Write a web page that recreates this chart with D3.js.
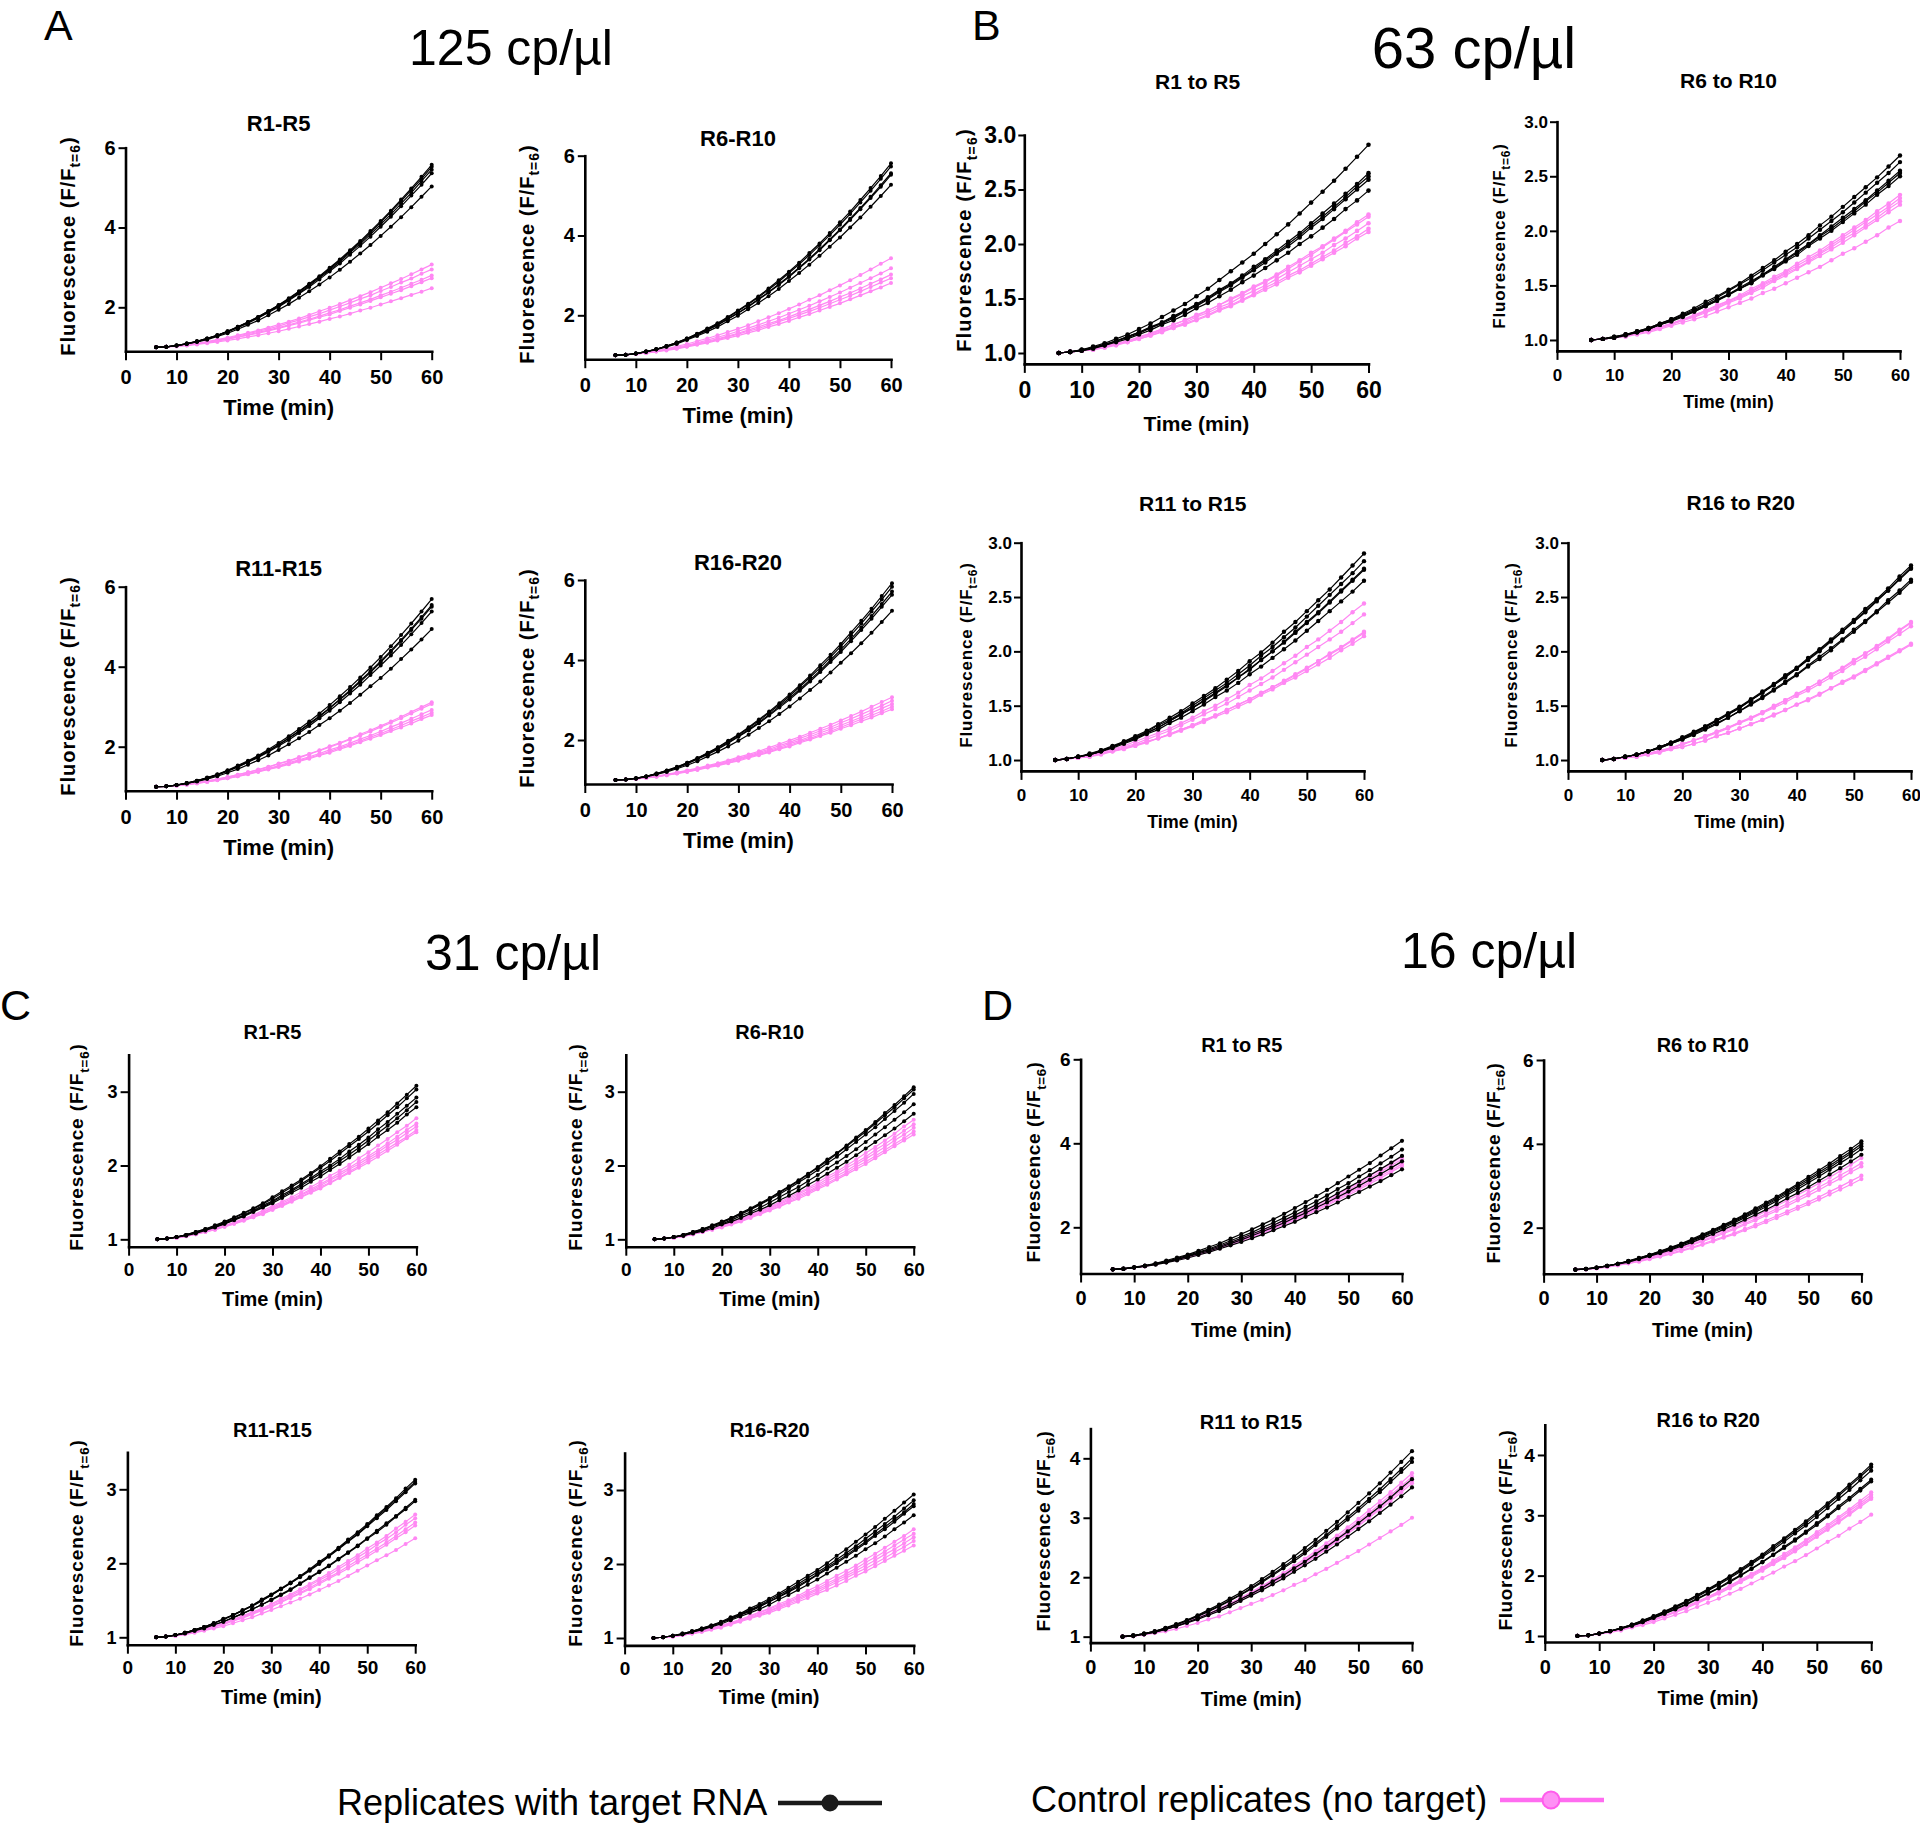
<!DOCTYPE html>
<html><head><meta charset="utf-8">
<script src="https://cdn.jsdelivr.net/npm/d3@7"></script>
<style>body{margin:0;background:#fff}</style>
</head><body>
<svg id="chart" width="1920" height="1823" style="background:#fff"></svg>
<script>
// ---------------- DATA ----------------
const time = [6,8,10,12,14,16,18,20,22,24,26,28,30,32,34,36,38,40,42,44,46,48,50,52,54,56,58,60];
const xTicks = [0,10,20,30,40,50,60];
const yTicks6 = [2,4,6];
const yTicks3 = [1.0,1.5,2.0,2.5,3.0];
const yTicks35 = [1,2,3];
const yTicks45 = [1,2,3,4];
const concentrations = ["125 cp/\u00b5l","63 cp/\u00b5l","31 cp/\u00b5l","16 cp/\u00b5l"];
const panelLetters = ["A","B","C","D"];
const titlesDash = ["R1-R5","R6-R10","R11-R15","R16-R20"];
const titlesTo = ["R1 to R5","R6 to R10","R11 to R15","R16 to R20"];
const legendLabels = ["Replicates with target RNA","Control replicates (no target)"];

// 125 cp/ul
const a1Target = [
[1,1.01,1.04,1.09,1.15,1.22,1.30,1.40,1.51,1.63,1.76,1.91,2.06,2.23,2.40,2.59,2.78,2.99,3.20,3.43,3.66,3.91,4.16,4.42,4.70,4.98,5.27,5.57],
[1,1.01,1.04,1.09,1.15,1.22,1.30,1.40,1.51,1.63,1.76,1.90,2.05,2.21,2.39,2.57,2.76,2.96,3.18,3.40,3.63,3.88,4.13,4.39,4.66,4.94,5.22,5.52],
[1,1.01,1.04,1.09,1.14,1.21,1.30,1.39,1.50,1.62,1.74,1.88,2.03,2.19,2.36,2.54,2.74,2.93,3.14,3.37,3.59,3.83,4.08,4.33,4.60,4.87,5.16,5.45],
[1,1.01,1.04,1.08,1.14,1.21,1.29,1.38,1.49,1.60,1.73,1.87,2.01,2.17,2.34,2.51,2.70,2.90,3.10,3.32,3.54,3.77,4.02,4.27,4.53,4.80,5.07,5.36],
[1,1.01,1.04,1.08,1.13,1.19,1.27,1.35,1.45,1.56,1.67,1.80,1.94,2.08,2.24,2.40,2.57,2.75,2.94,3.14,3.35,3.56,3.79,4.02,4.26,4.51,4.77,5.03]];
const a1Control = [
[1,1.01,1.03,1.06,1.10,1.14,1.19,1.24,1.30,1.36,1.42,1.49,1.57,1.64,1.72,1.81,1.90,1.99,2.08,2.18,2.28,2.38,2.49,2.60,2.71,2.83,2.95,3.07],
[1,1.01,1.03,1.06,1.09,1.13,1.18,1.22,1.28,1.34,1.40,1.46,1.53,1.61,1.68,1.76,1.84,1.93,2.02,2.11,2.21,2.30,2.41,2.51,2.62,2.72,2.84,2.95],
[1,1.01,1.03,1.05,1.08,1.12,1.16,1.21,1.26,1.31,1.37,1.43,1.49,1.56,1.63,1.70,1.78,1.86,1.94,2.03,2.11,2.20,2.30,2.39,2.49,2.59,2.69,2.80],
[1,1.01,1.03,1.05,1.08,1.12,1.16,1.20,1.25,1.30,1.35,1.41,1.47,1.54,1.60,1.68,1.75,1.82,1.91,1.99,2.07,2.16,2.25,2.34,2.43,2.53,2.63,2.73],
[1,1.01,1.02,1.04,1.07,1.10,1.13,1.17,1.21,1.26,1.30,1.35,1.40,1.46,1.52,1.58,1.64,1.71,1.77,1.84,1.92,1.99,2.07,2.15,2.23,2.31,2.39,2.48]];
const a2Target = [
[1,1.01,1.04,1.09,1.15,1.23,1.32,1.42,1.54,1.67,1.80,1.96,2.12,2.29,2.47,2.67,2.88,3.09,3.32,3.56,3.80,4.06,4.33,4.60,4.89,5.19,5.49,5.81],
[1,1.01,1.04,1.09,1.15,1.23,1.32,1.42,1.53,1.65,1.79,1.94,2.10,2.27,2.45,2.64,2.84,3.06,3.28,3.51,3.76,4.01,4.27,4.54,4.83,5.12,5.42,5.73],
[1,1.01,1.04,1.09,1.15,1.22,1.30,1.40,1.51,1.63,1.76,1.91,2.06,2.22,2.40,2.58,2.78,2.98,3.20,3.42,3.66,3.90,4.15,4.42,4.69,4.97,5.26,5.56],
[1,1.01,1.04,1.09,1.15,1.22,1.30,1.40,1.51,1.63,1.76,1.90,2.05,2.21,2.39,2.57,2.76,2.96,3.18,3.40,3.63,3.88,4.13,4.39,4.66,4.94,5.22,5.52],
[1,1.01,1.04,1.08,1.14,1.21,1.28,1.38,1.48,1.59,1.71,1.85,1.99,2.15,2.31,2.48,2.66,2.86,3.06,3.27,3.49,3.72,3.95,4.20,4.45,4.72,4.99,5.27]];
const a2Control = [
[1,1.01,1.04,1.07,1.11,1.16,1.22,1.28,1.35,1.42,1.50,1.58,1.66,1.75,1.85,1.95,2.05,2.16,2.27,2.39,2.50,2.63,2.75,2.88,3.01,3.15,3.29,3.43],
[1,1.01,1.03,1.06,1.10,1.15,1.20,1.25,1.31,1.38,1.45,1.52,1.60,1.68,1.76,1.85,1.94,2.04,2.14,2.24,2.35,2.46,2.57,2.69,2.81,2.93,3.05,3.18],
[1,1.01,1.03,1.06,1.10,1.14,1.18,1.23,1.29,1.35,1.41,1.48,1.55,1.63,1.71,1.79,1.87,1.96,2.06,2.15,2.25,2.35,2.46,2.56,2.67,2.79,2.90,3.02],
[1,1.01,1.03,1.06,1.09,1.13,1.17,1.22,1.28,1.33,1.39,1.46,1.53,1.60,1.67,1.75,1.84,1.92,2.01,2.10,2.19,2.29,2.39,2.49,2.60,2.71,2.82,2.93],
[1,1.01,1.03,1.05,1.09,1.12,1.16,1.21,1.26,1.31,1.37,1.43,1.49,1.56,1.63,1.71,1.78,1.86,1.95,2.03,2.12,2.21,2.30,2.40,2.50,2.60,2.70,2.81]];
const a3Target = [
[1,1.01,1.04,1.09,1.15,1.23,1.31,1.41,1.53,1.65,1.78,1.93,2.09,2.26,2.44,2.63,2.83,3.04,3.26,3.49,3.73,3.98,4.24,4.51,4.79,5.08,5.38,5.69],
[1,1.01,1.04,1.09,1.15,1.22,1.30,1.40,1.51,1.63,1.76,1.90,2.05,2.22,2.39,2.58,2.77,2.97,3.19,3.41,3.65,3.89,4.14,4.40,4.67,4.95,5.24,5.54],
[1,1.01,1.04,1.09,1.14,1.22,1.30,1.40,1.50,1.62,1.75,1.89,2.05,2.21,2.38,2.56,2.75,2.96,3.17,3.39,3.62,3.86,4.11,4.37,4.64,4.92,5.20,5.50],
[1,1.01,1.04,1.08,1.14,1.21,1.29,1.39,1.49,1.61,1.73,1.87,2.02,2.17,2.34,2.52,2.71,2.90,3.11,3.33,3.55,3.79,4.03,4.28,4.54,4.81,5.09,5.38],
[1,1.01,1.04,1.08,1.13,1.19,1.26,1.35,1.44,1.55,1.66,1.78,1.92,2.06,2.21,2.37,2.54,2.71,2.90,3.09,3.30,3.51,3.72,3.95,4.19,4.43,4.68,4.94]];
const a3Control = [
[1,1.01,1.03,1.06,1.10,1.14,1.19,1.24,1.30,1.36,1.43,1.50,1.58,1.65,1.74,1.82,1.91,2.01,2.10,2.20,2.31,2.41,2.52,2.63,2.75,2.87,2.99,3.11],
[1,1.01,1.03,1.06,1.10,1.14,1.19,1.24,1.30,1.36,1.42,1.49,1.57,1.64,1.72,1.81,1.90,1.99,2.08,2.18,2.28,2.38,2.49,2.60,2.71,2.83,2.95,3.07],
[1,1.01,1.03,1.06,1.09,1.13,1.17,1.22,1.27,1.33,1.39,1.46,1.52,1.60,1.67,1.75,1.83,1.92,2.00,2.09,2.19,2.28,2.38,2.49,2.59,2.70,2.81,2.92],
[1,1.01,1.03,1.05,1.09,1.12,1.17,1.21,1.26,1.32,1.38,1.44,1.51,1.57,1.65,1.72,1.80,1.88,1.97,2.05,2.14,2.24,2.33,2.43,2.53,2.64,2.74,2.85],
[1,1.01,1.03,1.05,1.08,1.12,1.16,1.21,1.26,1.31,1.37,1.43,1.49,1.56,1.63,1.70,1.78,1.85,1.94,2.02,2.11,2.20,2.29,2.39,2.48,2.58,2.69,2.79]];
const a4Target = [
[1,1.01,1.05,1.09,1.16,1.24,1.33,1.43,1.55,1.68,1.82,1.98,2.14,2.32,2.51,2.71,2.92,3.14,3.37,3.61,3.87,4.13,4.40,4.69,4.98,5.28,5.60,5.92],
[1,1.01,1.04,1.09,1.16,1.23,1.32,1.43,1.54,1.67,1.81,1.96,2.12,2.30,2.48,2.68,2.88,3.10,3.33,3.57,3.81,4.07,4.34,4.62,4.91,5.21,5.51,5.83],
[1,1.01,1.04,1.09,1.15,1.23,1.31,1.41,1.53,1.65,1.79,1.94,2.09,2.26,2.44,2.63,2.84,3.05,3.27,3.50,3.74,4.00,4.26,4.53,4.81,5.10,5.40,5.71],
[1,1.01,1.04,1.09,1.15,1.22,1.31,1.41,1.52,1.64,1.77,1.92,2.08,2.24,2.42,2.61,2.81,3.01,3.23,3.46,3.70,3.95,4.20,4.47,4.75,5.03,5.33,5.63],
[1,1.01,1.04,1.08,1.14,1.20,1.28,1.37,1.47,1.59,1.71,1.84,1.98,2.13,2.30,2.47,2.65,2.84,3.04,3.25,3.46,3.69,3.93,4.17,4.42,4.68,4.95,5.23]];
const a4Control = [
[1,1.01,1.03,1.06,1.10,1.14,1.19,1.24,1.30,1.36,1.42,1.49,1.57,1.64,1.72,1.81,1.90,1.99,2.08,2.18,2.28,2.38,2.49,2.60,2.71,2.83,2.95,3.07],
[1,1.01,1.03,1.06,1.09,1.13,1.18,1.23,1.28,1.34,1.40,1.47,1.54,1.61,1.69,1.77,1.86,1.94,2.04,2.13,2.23,2.32,2.43,2.53,2.64,2.75,2.86,2.98],
[1,1.01,1.03,1.06,1.09,1.13,1.17,1.22,1.27,1.33,1.39,1.45,1.52,1.59,1.66,1.74,1.82,1.91,1.99,2.08,2.18,2.27,2.37,2.47,2.57,2.68,2.79,2.90],
[1,1.01,1.03,1.05,1.09,1.12,1.17,1.21,1.26,1.32,1.37,1.43,1.50,1.57,1.64,1.71,1.79,1.87,1.96,2.04,2.13,2.22,2.32,2.42,2.52,2.62,2.72,2.83],
[1,1.01,1.03,1.05,1.08,1.12,1.16,1.20,1.25,1.31,1.36,1.42,1.48,1.55,1.62,1.69,1.77,1.84,1.93,2.01,2.10,2.18,2.28,2.37,2.47,2.56,2.67,2.77]];

// 63 cp/ul
const b1Target = [
[1,1.01,1.03,1.06,1.09,1.13,1.17,1.22,1.27,1.33,1.39,1.45,1.52,1.59,1.67,1.75,1.83,1.91,2.00,2.09,2.18,2.28,2.38,2.48,2.58,2.69,2.80,2.91],
[1,1.01,1.03,1.05,1.08,1.11,1.15,1.19,1.24,1.28,1.34,1.39,1.45,1.51,1.58,1.64,1.71,1.79,1.86,1.94,2.02,2.10,2.19,2.28,2.37,2.46,2.55,2.65],
[1,1.01,1.03,1.05,1.08,1.11,1.15,1.19,1.23,1.28,1.33,1.39,1.44,1.50,1.57,1.63,1.70,1.77,1.85,1.92,2.00,2.08,2.17,2.25,2.34,2.43,2.53,2.62],
[1,1.01,1.02,1.05,1.07,1.11,1.14,1.18,1.23,1.27,1.32,1.38,1.43,1.49,1.56,1.62,1.69,1.76,1.83,1.91,1.98,2.06,2.15,2.23,2.32,2.41,2.50,2.59],
[1,1.01,1.02,1.04,1.07,1.10,1.13,1.17,1.21,1.26,1.30,1.35,1.41,1.46,1.52,1.58,1.65,1.71,1.78,1.85,1.92,2.00,2.07,2.15,2.23,2.32,2.40,2.49]];
const b1Control = [
[1,1.01,1.02,1.04,1.06,1.09,1.11,1.15,1.18,1.22,1.26,1.30,1.35,1.39,1.44,1.50,1.55,1.61,1.66,1.72,1.79,1.85,1.92,1.98,2.05,2.12,2.20,2.27],
[1,1.01,1.02,1.04,1.06,1.08,1.11,1.14,1.18,1.22,1.26,1.30,1.34,1.39,1.44,1.49,1.54,1.60,1.65,1.71,1.77,1.84,1.90,1.97,2.04,2.11,2.18,2.25],
[1,1.01,1.02,1.04,1.06,1.08,1.11,1.14,1.17,1.21,1.24,1.28,1.33,1.37,1.42,1.46,1.52,1.57,1.62,1.68,1.74,1.80,1.86,1.92,1.99,2.05,2.12,2.19],
[1,1.01,1.02,1.03,1.05,1.08,1.10,1.13,1.16,1.20,1.23,1.27,1.31,1.35,1.40,1.44,1.49,1.54,1.60,1.65,1.71,1.76,1.82,1.88,1.94,2.01,2.07,2.14],
[1,1.01,1.02,1.03,1.05,1.07,1.10,1.13,1.16,1.19,1.23,1.26,1.30,1.34,1.39,1.43,1.48,1.53,1.58,1.63,1.69,1.74,1.80,1.86,1.92,1.98,2.05,2.11]];
const b2Target = [
[1,1.01,1.03,1.05,1.08,1.11,1.15,1.19,1.24,1.29,1.35,1.40,1.46,1.52,1.59,1.66,1.73,1.81,1.88,1.96,2.05,2.13,2.22,2.31,2.40,2.49,2.59,2.69],
[1,1.01,1.03,1.05,1.08,1.11,1.15,1.19,1.23,1.28,1.33,1.39,1.45,1.51,1.57,1.64,1.71,1.78,1.85,1.93,2.01,2.09,2.17,2.26,2.35,2.44,2.53,2.63],
[1,1.01,1.02,1.05,1.07,1.10,1.14,1.18,1.22,1.27,1.32,1.37,1.42,1.48,1.54,1.60,1.67,1.74,1.81,1.88,1.96,2.04,2.12,2.20,2.28,2.37,2.46,2.55],
[1,1.01,1.02,1.05,1.07,1.10,1.14,1.18,1.22,1.26,1.31,1.36,1.42,1.47,1.53,1.60,1.66,1.73,1.80,1.87,1.95,2.02,2.10,2.18,2.27,2.35,2.44,2.53],
[1,1.01,1.02,1.04,1.07,1.10,1.14,1.17,1.21,1.26,1.31,1.36,1.41,1.47,1.52,1.59,1.65,1.72,1.78,1.86,1.93,2.00,2.08,2.16,2.24,2.33,2.41,2.50]];
const b2Control = [
[1,1.01,1.02,1.04,1.06,1.09,1.12,1.15,1.19,1.23,1.27,1.32,1.36,1.41,1.47,1.52,1.58,1.63,1.70,1.76,1.82,1.89,1.96,2.03,2.10,2.18,2.25,2.33],
[1,1.01,1.02,1.04,1.06,1.09,1.12,1.15,1.19,1.22,1.27,1.31,1.36,1.40,1.45,1.51,1.56,1.62,1.68,1.74,1.80,1.87,1.94,2.01,2.08,2.15,2.22,2.30],
[1,1.01,1.02,1.04,1.06,1.09,1.11,1.15,1.18,1.22,1.26,1.30,1.35,1.39,1.44,1.50,1.55,1.61,1.66,1.72,1.79,1.85,1.92,1.98,2.05,2.12,2.20,2.27],
[1,1.01,1.02,1.04,1.06,1.08,1.11,1.14,1.18,1.21,1.25,1.29,1.34,1.38,1.43,1.48,1.54,1.59,1.65,1.71,1.77,1.83,1.89,1.96,2.03,2.10,2.17,2.24],
[1,1.01,1.02,1.03,1.05,1.07,1.10,1.13,1.16,1.19,1.22,1.26,1.30,1.34,1.38,1.43,1.47,1.52,1.57,1.62,1.67,1.73,1.79,1.84,1.90,1.96,2.03,2.09]];
const b3Target = [
[1,1.01,1.03,1.06,1.09,1.13,1.17,1.22,1.27,1.33,1.39,1.45,1.52,1.59,1.66,1.74,1.82,1.91,1.99,2.08,2.18,2.27,2.37,2.47,2.57,2.68,2.79,2.90],
[1,1.01,1.03,1.05,1.09,1.12,1.17,1.21,1.26,1.32,1.37,1.43,1.50,1.57,1.64,1.71,1.79,1.87,1.96,2.04,2.13,2.22,2.32,2.42,2.52,2.62,2.72,2.83],
[1,1.01,1.03,1.05,1.08,1.12,1.16,1.20,1.25,1.30,1.36,1.42,1.48,1.55,1.62,1.69,1.76,1.84,1.92,2.00,2.09,2.18,2.27,2.36,2.46,2.56,2.66,2.76],
[1,1.01,1.03,1.05,1.08,1.12,1.16,1.20,1.25,1.30,1.36,1.42,1.48,1.54,1.61,1.68,1.76,1.83,1.92,2.00,2.08,2.17,2.26,2.35,2.45,2.55,2.65,2.75],
[1,1.01,1.03,1.05,1.08,1.11,1.15,1.19,1.24,1.28,1.34,1.39,1.45,1.51,1.58,1.64,1.71,1.79,1.86,1.94,2.02,2.10,2.19,2.28,2.37,2.46,2.55,2.65]];
const b3Control = [
[1,1.01,1.02,1.04,1.07,1.10,1.13,1.17,1.21,1.25,1.29,1.34,1.39,1.45,1.50,1.56,1.62,1.69,1.75,1.82,1.89,1.96,2.04,2.11,2.19,2.27,2.36,2.44],
[1,1.01,1.02,1.04,1.06,1.09,1.12,1.15,1.19,1.23,1.27,1.32,1.37,1.42,1.47,1.52,1.58,1.64,1.70,1.76,1.83,1.90,1.97,2.04,2.11,2.18,2.26,2.34],
[1,1.01,1.02,1.04,1.06,1.08,1.11,1.14,1.17,1.20,1.24,1.28,1.32,1.37,1.41,1.46,1.51,1.56,1.62,1.67,1.73,1.79,1.85,1.91,1.98,2.04,2.11,2.18],
[1,1.01,1.02,1.03,1.06,1.08,1.11,1.13,1.17,1.20,1.24,1.28,1.32,1.36,1.41,1.46,1.51,1.56,1.61,1.67,1.72,1.78,1.84,1.91,1.97,2.03,2.10,2.17],
[1,1.01,1.02,1.03,1.05,1.08,1.10,1.13,1.16,1.20,1.23,1.27,1.31,1.35,1.40,1.44,1.49,1.54,1.60,1.65,1.71,1.76,1.82,1.88,1.94,2.01,2.07,2.14]];
const b4Target = [
[1,1.01,1.03,1.05,1.08,1.12,1.16,1.21,1.26,1.31,1.37,1.43,1.49,1.56,1.63,1.70,1.78,1.85,1.94,2.02,2.11,2.20,2.29,2.39,2.48,2.58,2.69,2.79],
[1,1.01,1.03,1.05,1.08,1.12,1.16,1.20,1.25,1.31,1.36,1.42,1.48,1.55,1.62,1.69,1.77,1.84,1.93,2.01,2.10,2.18,2.28,2.37,2.47,2.56,2.67,2.77],
[1,1.01,1.03,1.05,1.08,1.12,1.16,1.20,1.25,1.30,1.36,1.42,1.48,1.55,1.62,1.69,1.76,1.84,1.92,2.00,2.09,2.18,2.27,2.36,2.46,2.56,2.66,2.76],
[1,1.01,1.03,1.05,1.08,1.11,1.15,1.19,1.24,1.29,1.34,1.39,1.45,1.52,1.58,1.65,1.72,1.79,1.87,1.95,2.03,2.11,2.20,2.28,2.37,2.47,2.56,2.66],
[1,1.01,1.03,1.05,1.08,1.11,1.15,1.19,1.23,1.28,1.33,1.39,1.45,1.51,1.57,1.64,1.71,1.78,1.86,1.93,2.01,2.10,2.18,2.27,2.36,2.45,2.54,2.64]];
const b4Control = [
[1,1.01,1.02,1.04,1.06,1.09,1.11,1.15,1.18,1.22,1.26,1.30,1.35,1.39,1.44,1.50,1.55,1.61,1.66,1.72,1.79,1.85,1.92,1.98,2.05,2.12,2.20,2.27],
[1,1.01,1.02,1.04,1.06,1.08,1.11,1.15,1.18,1.22,1.26,1.30,1.34,1.39,1.44,1.49,1.55,1.60,1.66,1.72,1.78,1.84,1.91,1.98,2.04,2.11,2.19,2.26],
[1,1.01,1.02,1.04,1.06,1.08,1.11,1.14,1.18,1.21,1.25,1.29,1.34,1.38,1.43,1.48,1.53,1.59,1.64,1.70,1.76,1.82,1.89,1.95,2.02,2.09,2.16,2.23],
[1,1.01,1.02,1.03,1.05,1.07,1.10,1.12,1.15,1.18,1.22,1.25,1.29,1.33,1.37,1.42,1.46,1.51,1.56,1.61,1.66,1.72,1.77,1.83,1.89,1.95,2.01,2.07],
[1,1.01,1.02,1.03,1.05,1.07,1.10,1.12,1.15,1.18,1.22,1.25,1.29,1.33,1.37,1.41,1.46,1.51,1.55,1.60,1.66,1.71,1.76,1.82,1.88,1.94,2.00,2.06]];

// 31 cp/ul
const c1Target = [
[1,1.01,1.03,1.06,1.10,1.14,1.19,1.24,1.30,1.36,1.42,1.49,1.57,1.65,1.73,1.81,1.90,1.99,2.09,2.19,2.29,2.39,2.50,2.61,2.72,2.84,2.96,3.08],
[1,1.01,1.03,1.06,1.10,1.14,1.18,1.23,1.29,1.35,1.41,1.48,1.55,1.63,1.71,1.79,1.88,1.97,2.06,2.16,2.26,2.36,2.46,2.57,2.68,2.79,2.91,3.03],
[1,1.01,1.03,1.06,1.09,1.13,1.17,1.22,1.27,1.33,1.39,1.46,1.52,1.60,1.67,1.75,1.83,1.92,2.00,2.09,2.19,2.28,2.38,2.49,2.59,2.70,2.81,2.92],
[1,1.01,1.03,1.06,1.09,1.13,1.17,1.21,1.27,1.32,1.38,1.44,1.51,1.58,1.65,1.73,1.81,1.89,1.97,2.06,2.15,2.24,2.34,2.44,2.54,2.64,2.75,2.86],
[1,1.01,1.03,1.05,1.08,1.12,1.16,1.21,1.26,1.31,1.37,1.43,1.49,1.56,1.63,1.70,1.78,1.85,1.94,2.02,2.11,2.20,2.29,2.39,2.48,2.58,2.69,2.79]];
const c1Control = [
[1,1.01,1.03,1.05,1.08,1.11,1.15,1.19,1.23,1.28,1.33,1.39,1.45,1.51,1.57,1.64,1.71,1.78,1.86,1.93,2.01,2.10,2.18,2.27,2.36,2.45,2.54,2.64],
[1,1.01,1.02,1.05,1.07,1.11,1.14,1.18,1.22,1.27,1.32,1.37,1.43,1.49,1.55,1.61,1.68,1.75,1.82,1.90,1.97,2.05,2.13,2.21,2.30,2.39,2.48,2.57],
[1,1.01,1.02,1.05,1.07,1.10,1.14,1.18,1.22,1.26,1.31,1.36,1.42,1.47,1.53,1.60,1.66,1.73,1.80,1.87,1.95,2.02,2.10,2.18,2.27,2.35,2.44,2.53],
[1,1.01,1.02,1.04,1.07,1.10,1.13,1.17,1.21,1.26,1.30,1.35,1.40,1.46,1.52,1.58,1.64,1.71,1.77,1.84,1.92,1.99,2.07,2.15,2.23,2.31,2.39,2.48],
[1,1.01,1.02,1.04,1.07,1.10,1.13,1.17,1.21,1.25,1.30,1.34,1.40,1.45,1.51,1.57,1.63,1.69,1.76,1.83,1.90,1.97,2.04,2.12,2.20,2.28,2.37,2.45]];
const c2Target = [
[1,1.01,1.03,1.06,1.10,1.14,1.19,1.24,1.29,1.36,1.42,1.49,1.56,1.64,1.72,1.80,1.89,1.98,2.08,2.17,2.27,2.38,2.48,2.59,2.71,2.82,2.94,3.06],
[1,1.01,1.03,1.06,1.10,1.14,1.18,1.23,1.29,1.35,1.41,1.48,1.55,1.63,1.71,1.79,1.88,1.97,2.06,2.16,2.26,2.36,2.46,2.57,2.68,2.79,2.91,3.03],
[1,1.01,1.03,1.06,1.09,1.13,1.18,1.23,1.28,1.34,1.40,1.47,1.54,1.61,1.69,1.77,1.85,1.94,2.03,2.12,2.22,2.32,2.42,2.52,2.63,2.74,2.85,2.97],
[1,1.01,1.03,1.05,1.09,1.12,1.17,1.21,1.26,1.32,1.37,1.43,1.50,1.57,1.64,1.71,1.79,1.87,1.96,2.04,2.13,2.22,2.32,2.42,2.52,2.62,2.72,2.83],
[1,1.01,1.03,1.05,1.08,1.11,1.15,1.20,1.24,1.29,1.35,1.40,1.46,1.53,1.59,1.66,1.74,1.81,1.89,1.97,2.05,2.14,2.23,2.32,2.41,2.50,2.60,2.70]];
const c2Control = [
[1,1.01,1.03,1.05,1.08,1.11,1.15,1.19,1.23,1.28,1.33,1.39,1.44,1.50,1.57,1.63,1.70,1.77,1.85,1.92,2.00,2.08,2.17,2.25,2.34,2.43,2.53,2.62],
[1,1.01,1.02,1.05,1.07,1.11,1.14,1.18,1.22,1.27,1.32,1.37,1.43,1.48,1.55,1.61,1.68,1.74,1.82,1.89,1.97,2.04,2.12,2.21,2.29,2.38,2.47,2.56],
[1,1.01,1.02,1.04,1.07,1.10,1.14,1.17,1.22,1.26,1.31,1.36,1.41,1.47,1.53,1.59,1.65,1.72,1.79,1.86,1.93,2.01,2.09,2.17,2.25,2.34,2.42,2.51],
[1,1.01,1.02,1.04,1.07,1.10,1.13,1.17,1.21,1.25,1.30,1.35,1.40,1.45,1.51,1.57,1.63,1.70,1.76,1.83,1.90,1.98,2.05,2.13,2.21,2.29,2.37,2.46],
[1,1.01,1.02,1.04,1.07,1.10,1.13,1.16,1.20,1.24,1.29,1.34,1.39,1.44,1.50,1.55,1.61,1.68,1.74,1.81,1.88,1.95,2.02,2.10,2.18,2.26,2.34,2.42]];
const c3Target = [
[1,1.01,1.03,1.06,1.10,1.14,1.19,1.25,1.30,1.37,1.43,1.51,1.58,1.66,1.74,1.83,1.92,2.02,2.11,2.21,2.32,2.42,2.53,2.65,2.76,2.88,3.01,3.13],
[1,1.01,1.03,1.06,1.10,1.14,1.19,1.24,1.30,1.36,1.43,1.50,1.57,1.65,1.73,1.82,1.91,2.00,2.10,2.20,2.30,2.40,2.51,2.63,2.74,2.86,2.98,3.10],
[1,1.01,1.03,1.06,1.10,1.14,1.19,1.24,1.30,1.36,1.42,1.49,1.57,1.65,1.73,1.81,1.90,1.99,2.09,2.19,2.29,2.39,2.50,2.61,2.72,2.84,2.96,3.08],
[1,1.01,1.03,1.06,1.09,1.13,1.17,1.21,1.27,1.32,1.38,1.44,1.51,1.58,1.65,1.73,1.81,1.89,1.97,2.06,2.15,2.24,2.34,2.44,2.54,2.64,2.75,2.86],
[1,1.01,1.03,1.05,1.09,1.12,1.17,1.21,1.26,1.32,1.38,1.44,1.50,1.57,1.64,1.72,1.80,1.88,1.96,2.05,2.14,2.23,2.33,2.42,2.52,2.63,2.73,2.84]];
const c3Control = [
[1,1.01,1.03,1.05,1.08,1.11,1.15,1.19,1.24,1.29,1.34,1.39,1.45,1.52,1.58,1.65,1.72,1.79,1.87,1.95,2.03,2.11,2.20,2.28,2.37,2.47,2.56,2.66],
[1,1.01,1.02,1.05,1.08,1.11,1.15,1.19,1.23,1.28,1.33,1.38,1.44,1.50,1.56,1.63,1.70,1.77,1.84,1.92,2.00,2.08,2.16,2.25,2.33,2.42,2.52,2.61],
[1,1.01,1.02,1.05,1.07,1.10,1.14,1.18,1.22,1.27,1.32,1.37,1.42,1.48,1.54,1.60,1.67,1.74,1.81,1.88,1.96,2.04,2.12,2.20,2.28,2.37,2.46,2.55],
[1,1.01,1.02,1.04,1.07,1.10,1.14,1.17,1.22,1.26,1.31,1.36,1.41,1.47,1.53,1.59,1.65,1.72,1.79,1.86,1.93,2.01,2.09,2.17,2.25,2.34,2.42,2.51],
[1,1.01,1.02,1.04,1.06,1.09,1.12,1.15,1.19,1.23,1.27,1.32,1.37,1.42,1.47,1.52,1.58,1.64,1.70,1.76,1.83,1.90,1.97,2.04,2.11,2.18,2.26,2.34]];
const c4Target = [
[1,1.01,1.03,1.06,1.09,1.13,1.17,1.22,1.28,1.33,1.40,1.46,1.53,1.60,1.68,1.76,1.84,1.92,2.01,2.11,2.20,2.30,2.40,2.50,2.61,2.72,2.83,2.94],
[1,1.01,1.03,1.06,1.09,1.13,1.17,1.21,1.27,1.32,1.38,1.44,1.51,1.58,1.65,1.73,1.81,1.89,1.97,2.06,2.15,2.24,2.34,2.44,2.54,2.64,2.75,2.86],
[1,1.01,1.03,1.05,1.09,1.12,1.16,1.21,1.26,1.31,1.37,1.43,1.49,1.56,1.63,1.71,1.78,1.86,1.95,2.03,2.12,2.21,2.30,2.40,2.50,2.60,2.70,2.81],
[1,1.01,1.03,1.05,1.08,1.12,1.16,1.21,1.25,1.31,1.36,1.42,1.49,1.55,1.62,1.69,1.77,1.85,1.93,2.01,2.10,2.19,2.28,2.38,2.47,2.57,2.68,2.78],
[1,1.01,1.03,1.05,1.08,1.11,1.15,1.19,1.24,1.29,1.34,1.39,1.45,1.52,1.58,1.65,1.72,1.79,1.87,1.95,2.03,2.11,2.20,2.28,2.37,2.47,2.56,2.66]];
const c4Control = [
[1,1.01,1.02,1.04,1.07,1.10,1.13,1.17,1.21,1.25,1.30,1.35,1.40,1.46,1.51,1.57,1.64,1.70,1.77,1.84,1.91,1.98,2.06,2.14,2.22,2.30,2.38,2.47],
[1,1.01,1.02,1.04,1.07,1.09,1.13,1.16,1.20,1.24,1.29,1.34,1.39,1.44,1.49,1.55,1.61,1.67,1.74,1.80,1.87,1.94,2.02,2.09,2.17,2.25,2.33,2.41],
[1,1.01,1.02,1.04,1.06,1.09,1.12,1.16,1.19,1.23,1.28,1.32,1.37,1.42,1.48,1.53,1.59,1.65,1.71,1.78,1.84,1.91,1.98,2.05,2.13,2.20,2.28,2.36],
[1,1.01,1.02,1.04,1.06,1.09,1.12,1.15,1.19,1.23,1.27,1.31,1.36,1.41,1.46,1.51,1.57,1.62,1.69,1.75,1.81,1.88,1.94,2.01,2.08,2.16,2.23,2.31],
[1,1.01,1.02,1.04,1.06,1.08,1.11,1.14,1.18,1.22,1.26,1.30,1.34,1.39,1.44,1.49,1.54,1.60,1.65,1.71,1.77,1.84,1.90,1.97,2.04,2.11,2.18,2.25]];

// 16 cp/ul
const d1Target = [
[1,1.02,1.05,1.09,1.14,1.21,1.28,1.35,1.44,1.53,1.62,1.73,1.84,1.95,2.07,2.19,2.32,2.46,2.60,2.74,2.89,3.05,3.21,3.37,3.53,3.71,3.88,4.06],
[1,1.01,1.04,1.08,1.13,1.19,1.26,1.33,1.41,1.49,1.58,1.68,1.78,1.88,2.00,2.11,2.23,2.36,2.49,2.62,2.76,2.91,3.05,3.21,3.36,3.52,3.68,3.85],
[1,1.01,1.04,1.08,1.13,1.18,1.24,1.31,1.39,1.47,1.55,1.64,1.74,1.84,1.94,2.05,2.17,2.29,2.41,2.54,2.67,2.81,2.95,3.09,3.24,3.39,3.54,3.70],
[1,1.01,1.04,1.08,1.12,1.17,1.23,1.30,1.37,1.44,1.52,1.61,1.70,1.80,1.90,2.00,2.11,2.23,2.34,2.47,2.59,2.72,2.85,2.99,3.13,3.27,3.42,3.57],
[1,1.01,1.04,1.07,1.11,1.16,1.21,1.27,1.34,1.41,1.49,1.57,1.65,1.74,1.83,1.93,2.03,2.13,2.25,2.36,2.47,2.59,2.72,2.84,2.97,3.10,3.24,3.38]];
const d1Control = [
[1,1.01,1.04,1.08,1.13,1.18,1.24,1.31,1.38,1.46,1.55,1.64,1.73,1.83,1.94,2.05,2.16,2.28,2.40,2.53,2.66,2.79,2.93,3.07,3.22,3.37,3.52,3.68],
[1,1.01,1.04,1.08,1.12,1.18,1.24,1.30,1.37,1.45,1.54,1.62,1.72,1.81,1.92,2.02,2.13,2.25,2.37,2.49,2.62,2.75,2.89,3.03,3.17,3.32,3.47,3.62],
[1,1.01,1.04,1.08,1.12,1.17,1.23,1.30,1.37,1.44,1.52,1.61,1.70,1.79,1.89,2.00,2.11,2.22,2.34,2.46,2.58,2.71,2.84,2.98,3.12,3.26,3.41,3.56],
[1,1.01,1.04,1.07,1.12,1.17,1.23,1.29,1.36,1.43,1.51,1.60,1.69,1.78,1.88,1.98,2.09,2.20,2.31,2.43,2.55,2.68,2.81,2.94,3.08,3.22,3.36,3.51],
[1,1.01,1.04,1.07,1.12,1.17,1.22,1.28,1.35,1.42,1.50,1.58,1.67,1.76,1.86,1.96,2.07,2.17,2.29,2.40,2.52,2.65,2.77,2.90,3.04,3.17,3.32,3.46]];
const d2Target = [
[1,1.02,1.05,1.09,1.14,1.21,1.28,1.35,1.44,1.53,1.62,1.73,1.84,1.95,2.07,2.19,2.32,2.46,2.60,2.74,2.89,3.05,3.21,3.37,3.53,3.71,3.88,4.06],
[1,1.02,1.05,1.09,1.14,1.20,1.27,1.35,1.43,1.52,1.61,1.71,1.82,1.93,2.05,2.17,2.30,2.43,2.57,2.71,2.86,3.01,3.16,3.32,3.48,3.65,3.82,4.00],
[1,1.02,1.05,1.09,1.14,1.20,1.27,1.34,1.42,1.51,1.60,1.70,1.80,1.91,2.03,2.15,2.27,2.40,2.54,2.68,2.82,2.97,3.12,3.28,3.43,3.60,3.77,3.94],
[1,1.01,1.04,1.09,1.14,1.19,1.26,1.33,1.41,1.49,1.59,1.68,1.78,1.89,2.00,2.12,2.24,2.37,2.50,2.64,2.78,2.92,3.07,3.22,3.38,3.54,3.70,3.87],
[1,1.01,1.04,1.08,1.13,1.18,1.25,1.32,1.39,1.47,1.56,1.65,1.75,1.85,1.96,2.07,2.19,2.31,2.43,2.56,2.70,2.83,2.97,3.12,3.27,3.42,3.58,3.74]];
const d2Control = [
[1,1.01,1.04,1.08,1.13,1.18,1.24,1.31,1.38,1.46,1.54,1.63,1.73,1.83,1.93,2.04,2.15,2.27,2.39,2.52,2.65,2.78,2.92,3.06,3.20,3.35,3.50,3.66],
[1,1.01,1.04,1.08,1.12,1.17,1.23,1.29,1.36,1.44,1.52,1.60,1.69,1.79,1.89,1.99,2.10,2.21,2.33,2.45,2.57,2.70,2.83,2.97,3.10,3.25,3.39,3.54],
[1,1.01,1.04,1.07,1.12,1.17,1.22,1.28,1.35,1.42,1.50,1.58,1.67,1.76,1.86,1.96,2.07,2.17,2.29,2.40,2.52,2.65,2.77,2.90,3.04,3.17,3.32,3.46],
[1,1.01,1.03,1.07,1.11,1.15,1.20,1.26,1.32,1.39,1.46,1.53,1.61,1.70,1.78,1.87,1.97,2.07,2.17,2.28,2.39,2.50,2.61,2.73,2.86,2.98,3.11,3.24],
[1,1.01,1.03,1.06,1.10,1.15,1.19,1.25,1.31,1.37,1.44,1.51,1.59,1.67,1.76,1.84,1.94,2.03,2.13,2.23,2.34,2.45,2.56,2.67,2.79,2.91,3.03,3.16]];
const d3Target = [
[1,1.02,1.05,1.09,1.15,1.21,1.28,1.36,1.45,1.54,1.64,1.74,1.85,1.97,2.09,2.22,2.35,2.49,2.63,2.78,2.93,3.09,3.25,3.41,3.58,3.76,3.94,4.12],
[1,1.02,1.05,1.09,1.14,1.20,1.27,1.35,1.43,1.52,1.61,1.71,1.82,1.93,2.05,2.17,2.30,2.43,2.57,2.71,2.86,3.01,3.16,3.32,3.48,3.65,3.82,4.00],
[1,1.02,1.05,1.09,1.14,1.20,1.27,1.34,1.42,1.51,1.60,1.70,1.80,1.91,2.03,2.15,2.27,2.40,2.54,2.68,2.82,2.97,3.12,3.28,3.43,3.60,3.77,3.94],
[1,1.01,1.04,1.08,1.12,1.18,1.24,1.31,1.38,1.46,1.54,1.63,1.72,1.82,1.93,2.03,2.15,2.26,2.39,2.51,2.64,2.77,2.91,3.05,3.19,3.34,3.50,3.65],
[1,1.01,1.04,1.07,1.12,1.17,1.23,1.29,1.36,1.43,1.51,1.60,1.69,1.78,1.88,1.98,2.09,2.20,2.31,2.43,2.55,2.68,2.81,2.94,3.08,3.22,3.36,3.51]];
const d3Control = [
[1,1.01,1.04,1.08,1.13,1.19,1.25,1.32,1.39,1.47,1.56,1.65,1.75,1.85,1.96,2.07,2.19,2.31,2.44,2.57,2.70,2.84,2.98,3.13,3.28,3.43,3.59,3.75],
[1,1.01,1.04,1.08,1.13,1.18,1.24,1.31,1.38,1.46,1.55,1.64,1.73,1.83,1.94,2.05,2.16,2.28,2.41,2.53,2.66,2.80,2.94,3.08,3.23,3.38,3.53,3.69],
[1,1.01,1.04,1.08,1.12,1.18,1.24,1.30,1.37,1.45,1.54,1.62,1.72,1.81,1.92,2.02,2.13,2.25,2.37,2.49,2.62,2.75,2.89,3.03,3.17,3.32,3.47,3.62],
[1,1.01,1.04,1.08,1.12,1.17,1.23,1.30,1.37,1.44,1.53,1.61,1.70,1.80,1.90,2.01,2.12,2.23,2.35,2.47,2.60,2.73,2.86,3.00,3.14,3.28,3.43,3.58],
[1,1.01,1.03,1.06,1.09,1.13,1.18,1.23,1.29,1.34,1.41,1.48,1.55,1.62,1.70,1.78,1.87,1.95,2.05,2.14,2.24,2.34,2.44,2.55,2.66,2.77,2.88,3.00]];
const d4Target = [
[1,1.01,1.04,1.08,1.13,1.19,1.26,1.33,1.41,1.49,1.58,1.68,1.78,1.88,1.99,2.11,2.23,2.35,2.49,2.62,2.76,2.90,3.05,3.20,3.35,3.51,3.67,3.84],
[1,1.01,1.04,1.08,1.13,1.19,1.25,1.32,1.40,1.48,1.57,1.67,1.76,1.87,1.98,2.09,2.21,2.33,2.46,2.60,2.73,2.87,3.02,3.17,3.32,3.48,3.64,3.80],
[1,1.01,1.04,1.08,1.13,1.18,1.25,1.32,1.39,1.47,1.56,1.65,1.75,1.85,1.96,2.07,2.19,2.31,2.43,2.56,2.70,2.83,2.97,3.12,3.27,3.42,3.58,3.74],
[1,1.01,1.04,1.08,1.12,1.17,1.23,1.30,1.37,1.45,1.53,1.62,1.71,1.80,1.91,2.01,2.12,2.23,2.35,2.48,2.60,2.73,2.87,3.00,3.15,3.29,3.44,3.59],
[1,1.01,1.04,1.08,1.12,1.17,1.23,1.30,1.37,1.44,1.52,1.61,1.70,1.79,1.89,2.00,2.11,2.22,2.34,2.46,2.58,2.71,2.84,2.98,3.12,3.26,3.41,3.56]];
const d4Control = [
[1,1.01,1.04,1.07,1.11,1.16,1.21,1.27,1.34,1.41,1.49,1.57,1.65,1.74,1.83,1.93,2.03,2.13,2.25,2.36,2.47,2.59,2.72,2.84,2.97,3.10,3.24,3.38],
[1,1.01,1.04,1.07,1.11,1.16,1.21,1.27,1.33,1.40,1.48,1.56,1.64,1.73,1.82,1.91,2.01,2.12,2.22,2.33,2.45,2.57,2.69,2.81,2.94,3.07,3.20,3.34],
[1,1.01,1.04,1.07,1.11,1.15,1.21,1.27,1.33,1.40,1.47,1.55,1.63,1.71,1.80,1.90,2.00,2.10,2.20,2.31,2.42,2.54,2.66,2.78,2.90,3.03,3.17,3.30],
[1,1.01,1.04,1.07,1.11,1.15,1.20,1.26,1.32,1.39,1.46,1.54,1.62,1.70,1.79,1.89,1.98,2.08,2.19,2.29,2.40,2.52,2.64,2.76,2.88,3.01,3.14,3.27],
[1,1.01,1.03,1.06,1.09,1.14,1.18,1.23,1.29,1.35,1.41,1.48,1.55,1.62,1.70,1.78,1.87,1.96,2.05,2.15,2.24,2.34,2.45,2.56,2.66,2.78,2.89,3.01]];

// ---------------- LAYOUT & STYLE ----------------
const FONT = '"Liberation Sans", Arial, Helvetica, sans-serif';
const BLACK = '#000000';
const PINK = '#ff88f3';

const styles = {
  A:  {titleFs:22, xtFs:20, ytFs:20, xlabFs:22, xlabDy:64, yLabFs:20, yLabLs:1.0, yTick:7, yPad:3, xPad:9.8, r:2.0},
  B1: {titleFs:21, xtFs:23, ytFs:23, xlabFs:21, xlabDy:67, yLabFs:20, yLabLs:1.2, yTick:6, yPad:2, xPad:8.7, r:2.3},
  B:  {titleFs:21, xtFs:17, ytFs:17, xlabFs:18, xlabDy:57, yLabFs:17, yLabLs:0.8, yTick:7, yPad:2, xPad:9, r:2.2},
  C:  {titleFs:20, xtFs:19, ytFs:18, xlabFs:20, xlabDy:59, yLabFs:19, yLabLs:0.9, yTick:8, yPad:3, xPad:7, r:2.0},
  D:  {titleFs:20, xtFs:20, ytFs:19, xlabFs:20, xlabDy:63, yLabFs:19, yLabLs:0.6, yTick:7, yPad:3, xPad:8.5, r:2.1}
};

const panels = [
 {t:titlesDash[0], tg:a1Target, ct:a1Control, x0:125.5, x1:431.7, yB:351.2, yT:147.7, yMax:6, ticks:yTicks6, f:'d', tx:278.6, ty:131, yx:74.6, yy:246, s:'A'},
 {t:titlesDash[1], tg:a2Target, ct:a2Control, x0:584.8, x1:891, yB:359.2, yT:155.7, yMax:6, ticks:yTicks6, f:'d', tx:738, ty:146, yx:533.8, yy:254, s:'A'},
 {t:titlesDash[2], tg:a3Target, ct:a3Control, x0:125.5, x1:431.7, yB:790.7, yT:586.7, yMax:6, ticks:yTicks6, f:'d', tx:278.6, ty:576, yx:74.6, yy:686, s:'A'},
 {t:titlesDash[3], tg:a4Target, ct:a4Control, x0:584.8, x1:892, yB:784, yT:580, yMax:6, ticks:yTicks6, f:'d', tx:738, ty:570, yx:533.8, yy:678, s:'A'},
 {t:titlesTo[0], tg:b1Target, ct:b1Control, x0:1024.3, x1:1368.5, yB:363.9, yT:135, yMax:3, ticks:yTicks3, f:'.1f', tx:1197.6, ty:89, yx:971, yy:240, s:'B1'},
 {t:titlesTo[1], tg:b2Target, ct:b2Control, x0:1557, x1:1900, yB:350.9, yT:121.7, yMax:3, ticks:yTicks3, f:'.1f', tx:1728.5, ty:87.5, yx:1505, yy:236, s:'B'},
 {t:titlesTo[2], tg:b3Target, ct:b3Control, x0:1021, x1:1364, yB:770.9, yT:542.7, yMax:3, ticks:yTicks3, f:'.1f', tx:1192.7, ty:511, yx:972, yy:655, s:'B'},
 {t:titlesTo[3], tg:b4Target, ct:b4Control, x0:1568, x1:1911, yB:770.9, yT:542.7, yMax:3, ticks:yTicks3, f:'.1f', tx:1740.8, ty:510, yx:1517, yy:655, s:'B'},
 {t:titlesDash[0], tg:c1Target, ct:c1Control, x0:128.6, x1:416.4, yB:1246.7, yT:1054.8, yMax:3.5, ticks:yTicks35, f:'d', tx:272.5, ty:1039, yx:83.3, yy:1147, s:'C'},
 {t:titlesDash[1], tg:c2Target, ct:c2Control, x0:625.8, x1:913.7, yB:1246.7, yT:1054.8, yMax:3.5, ticks:yTicks35, f:'d', tx:769.7, ty:1039, yx:582.4, yy:1147, s:'C'},
 {t:titlesDash[2], tg:c3Target, ct:c3Control, x0:127.4, x1:415.2, yB:1644.7, yT:1452.3, yMax:3.5, ticks:yTicks35, f:'d', tx:272.5, ty:1437, yx:83.3, yy:1543, s:'C'},
 {t:titlesDash[3], tg:c4Target, ct:c4Control, x0:624.6, x1:913.7, yB:1645.4, yT:1453, yMax:3.5, ticks:yTicks35, f:'d', tx:769.7, ty:1437, yx:582.4, yy:1543, s:'C'},
 {t:titlesTo[0], tg:d1Target, ct:d1Control, x0:1080.6, x1:1402, yB:1273.5, yT:1059.3, yMax:6, ticks:yTicks6, f:'d', tx:1241.7, ty:1052, yx:1040.3, yy:1162, s:'D'},
 {t:titlesTo[1], tg:d2Target, ct:d2Control, x0:1543.6, x1:1861.4, yB:1273.8, yT:1060, yMax:6, ticks:yTicks6, f:'d', tx:1702.8, ty:1052, yx:1499.6, yy:1163, s:'D'},
 {t:titlesTo[2], tg:d3Target, ct:d3Control, x0:1090.4, x1:1412, yB:1642.6, yT:1428.6, yMax:4.5, ticks:yTicks45, f:'d', tx:1250.9, ty:1429, yx:1049.5, yy:1531, s:'D'},
 {t:titlesTo[3], tg:d4Target, ct:d4Control, x0:1544.8, x1:1871.2, yB:1642, yT:1424.8, yMax:4.5, ticks:yTicks45, f:'d', tx:1708.3, ty:1427, yx:1511.8, yy:1530, s:'D'}
];

const headers = [
 {txt:concentrations[0], x:511, y:65, fs:50},
 {txt:concentrations[1], x:1474, y:68, fs:58},
 {txt:concentrations[2], x:513, y:970, fs:50},
 {txt:concentrations[3], x:1489, y:968, fs:50}
];
const letters = [
 {txt:panelLetters[0], x:44, y:40},
 {txt:panelLetters[1], x:972, y:40},
 {txt:panelLetters[2], x:0, y:1020},
 {txt:panelLetters[3], x:982, y:1020}
];

// ---------------- DRAW ----------------
const svg = d3.select('#chart');
svg.append('rect').attr('width',1920).attr('height',1823).attr('fill','#fff');

function styleAxis(a, fs) {
  a.attr('font-family', FONT).attr('font-size', fs).attr('font-weight', 'bold');
  a.select('.domain').attr('stroke', '#000').attr('stroke-width', 2.6).attr('stroke-linecap', 'square');
  a.selectAll('.tick line').attr('stroke', '#000').attr('stroke-width', 2);
  a.selectAll('.tick text').attr('fill', '#000');
}

panels.forEach(p => {
  const s = styles[p.s];
  const x = d3.scaleLinear().domain([0, 60]).range([p.x0, p.x1]);
  const y = d3.scaleLinear().domain([0.9, p.yMax]).range([p.yB, p.yT]);
  const g = svg.append('g');
  const line = d3.line().x((d, i) => x(time[i])).y(d => y(d));

  [[p.ct, PINK], [p.tg, BLACK]].forEach(([set, col]) => {
    set.forEach(series => {
      g.append('path').attr('d', line(series)).attr('fill', 'none')
        .attr('stroke', col).attr('stroke-width', 1.2);
      g.append('g').selectAll('circle').data(series).enter().append('circle')
        .attr('cx', (d, i) => x(time[i])).attr('cy', d => y(d))
        .attr('r', s.r).attr('fill', col);
    });
  });

  const xa = g.append('g').attr('transform', `translate(0,${p.yB})`)
    .call(d3.axisBottom(x).tickValues(xTicks).tickSize(9).tickSizeOuter(0)
      .tickPadding(s.xPad).tickFormat(d3.format('d')));
  styleAxis(xa, s.xtFs);
  const ya = g.append('g').attr('transform', `translate(${p.x0},0)`)
    .call(d3.axisLeft(y).tickValues(p.ticks).tickSize(s.yTick).tickSizeOuter(0)
      .tickPadding(s.yPad).tickFormat(d3.format(p.f)));
  styleAxis(ya, s.ytFs);

  g.append('text').attr('x', p.tx).attr('y', p.ty).attr('text-anchor', 'middle')
    .attr('font-family', FONT).attr('font-weight', 'bold').attr('font-size', s.titleFs)
    .text(p.t);
  g.append('text').attr('x', (p.x0 + p.x1) / 2).attr('y', p.yB + s.xlabDy).attr('text-anchor', 'middle')
    .attr('font-family', FONT).attr('font-weight', 'bold').attr('font-size', s.xlabFs)
    .text('Time (min)');
  const yl = g.append('text').attr('transform', `translate(${p.yx},${p.yy}) rotate(-90)`)
    .attr('text-anchor', 'middle').attr('font-family', FONT).attr('font-weight', 'bold')
    .attr('font-size', s.yLabFs).attr('letter-spacing', s.yLabLs);
  yl.append('tspan').text('Fluorescence (F/F');
  yl.append('tspan').attr('font-size', s.yLabFs * 0.7).attr('dy', s.yLabFs * 0.28).text('t=6');
  yl.append('tspan').attr('dy', -s.yLabFs * 0.28).text(')');
});

headers.forEach(h => {
  svg.append('text').attr('x', h.x).attr('y', h.y).attr('text-anchor', 'middle')
    .attr('font-family', FONT).attr('font-size', h.fs).text(h.txt);
});
letters.forEach(l => {
  svg.append('text').attr('x', l.x).attr('y', l.y).attr('font-family', FONT)
    .attr('font-size', 43).text(l.txt);
});

// legend
const lg = svg.append('g');
lg.append('text').attr('x', 337).attr('y', 1815).attr('font-family', FONT).attr('font-size', 36)
  .text(legendLabels[0]);
lg.append('line').attr('x1', 778).attr('x2', 882).attr('y1', 1803).attr('y2', 1803)
  .attr('stroke', '#1a1a1a').attr('stroke-width', 4.5);
lg.append('circle').attr('cx', 830).attr('cy', 1803).attr('r', 8.5).attr('fill', '#1a1a1a');
lg.append('text').attr('x', 1031).attr('y', 1812).attr('font-family', FONT).attr('font-size', 36)
  .text(legendLabels[1]);
lg.append('line').attr('x1', 1500).attr('x2', 1604).attr('y1', 1800).attr('y2', 1800)
  .attr('stroke', '#ff6cf0').attr('stroke-width', 4.5);
lg.append('circle').attr('cx', 1551).attr('cy', 1800).attr('r', 8.5).attr('fill', '#ff90f5')
  .attr('stroke', '#ff5cec').attr('stroke-width', 2);
</script>
</body></html>
